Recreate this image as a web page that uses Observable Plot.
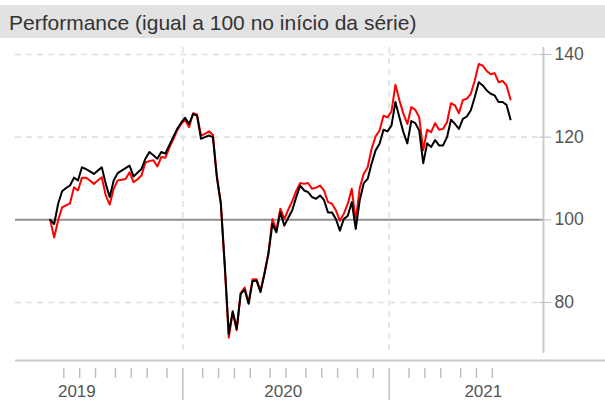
<!DOCTYPE html>
<html><head><meta charset="utf-8">
<script src="https://cdn.jsdelivr.net/npm/d3@7"></script>
<script src="https://cdn.jsdelivr.net/npm/@observablehq/plot@0.6"></script>
<style>
body{margin:0;background:#fff;font-family:"Liberation Sans",Arial,sans-serif;}
#title{margin-top:5px;height:33px;line-height:35px;background:#e2e2e2;color:#333;font-size:21px;padding-left:9px;white-space:nowrap;overflow:hidden}
#chart svg{display:block;overflow:visible}
</style></head><body>
<div id="title">Performance (igual a 100 no início da série)</div>
<div id="chart"></div>
<script>
// weekly series (Fridays), first value on 2019-05-10
const firstWeek = "2019-05-10";
const seriesBlack = [100,99.0,103.9,106.9,107.7,108.3,110.2,109.5,112.7,112.3,111.7,111.1,111.9,112.7,108.7,105.5,109.5,111.3,111.9,112.5,113.1,110.5,111.4,112.3,114.8,116.4,115.6,114.8,116.4,116.0,118.0,120.0,122.0,123.5,124.7,123.2,125.6,125.2,119.6,120.0,120.4,120.0,110.3,103.9,89.0,72.4,77.9,73.6,82.1,83.1,79.7,85.2,85.3,82.5,86.9,91.8,99.0,97.0,101.8,98.6,100.5,102.3,105.5,108.3,107.1,106.7,105.5,105.1,105.9,104.8,101.8,101.8,100.2,97.4,100.2,101.0,104.3,97.8,104.7,108.8,109.9,113.6,116.8,118.4,121.8,121.4,122.8,128.5,124.8,121.2,118.5,123.9,123.4,121.6,113.7,118.5,117.6,119.3,118.0,118.0,120.0,124.2,123.2,122.0,124.4,125.0,126.5,129.7,133.3,132.5,131.3,130.5,130.1,128.5,128.5,127.8,124.3];
const seriesRed = [100,95.7,99.9,103.0,103.5,104.0,107.9,107.1,110.2,110.2,109.5,108.7,109.5,110.3,105.9,103.7,107.5,109.5,109.7,109.9,111.5,109.1,109.8,110.7,113.9,114.2,114.4,112.9,115.2,115.0,117.4,119.5,121.6,123.2,124.2,122.4,125.8,125.5,120.4,120.8,121.4,120.6,110.6,104.0,88.5,71.5,77.6,73.3,82.3,83.6,80.0,85.6,85.6,82.8,87.2,92.0,100.2,97.5,102.7,100.2,102.5,104.5,107.0,108.9,108.7,108.9,107.5,107.8,108.3,107.1,104.3,103.9,102.3,99.8,101.5,103.9,107.5,99.8,107.7,111.1,112.7,117.2,120.2,121.6,125.2,124.8,126.2,132.7,128.9,125.7,123.2,127.3,126.6,124.8,116.8,121.8,121.2,123.4,121.8,122.0,123.6,128.2,127.7,125.8,129.0,129.3,130.5,133.7,137.7,137.3,136.0,135.2,135.5,133.3,133.6,132.5,129.1];
const yTicks = [80, 100, 120, 140];
const gridY = [80, 120, 140];
const refY = 100;
const yearLabels = [
  {date: "2019-06-26", text: "2019"},
  {date: "2020-06-24", text: "2020"},
  {date: "2021-06-12", text: "2021"}
];

const DAY = 864e5;
const t0 = Date.parse(firstWeek + "T00:00:00Z");
const rows = seriesBlack.map((v, i) => ({date: new Date(t0 + i * 7 * DAY), black: v, red: seriesRed[i]}));

// ticks: week of the first Friday of each month (drawn at that week's Monday)
const allTicks = d3.utcMonths(new Date(Date.UTC(2019,5,1)), new Date(Date.UTC(2021,7,1)))
  .map(m => d3.utcDay.offset(d3.utcFriday.ceil(m), -4));
const yearTicks = allTicks.filter(d => d.getUTCMonth() === 0 || (d.getUTCMonth() === 11 && d.getUTCDate() > 25));
const monthTicks = allTicks.filter(d => !yearTicks.includes(d));

const xStart = new Date(Date.UTC(2019,2,9,19));
const xEnd = new Date(Date.UTC(2021,8,26,5));
const xFar = new Date(Date.UTC(2022,0,14));
const yMin = 67.66, yMax = 141.69;

const chart = Plot.plot({
  width: 605, height: 362,
  marginLeft: 15, marginRight: 62, marginTop: 9, marginBottom: 47,
  style: {fontFamily: "'Liberation Sans', Arial, sans-serif", color: "#555", background: "transparent", overflow: "visible"},
  x: {type: "utc", domain: [xStart, xEnd], axis: null},
  y: {domain: [yMin, yMax], axis: null},
  marks: [
    Plot.ruleY(gridY, {stroke: "#e0e0e0", strokeWidth: 1.6, strokeDasharray: "6,5"}),
    Plot.ruleX(yearTicks, {stroke: "#e0e0e0", strokeWidth: 1.6, strokeDasharray: "6,5"}),
    Plot.ruleY([refY], {stroke: "#8f8f8f", strokeWidth: 2}),
    Plot.line(rows, {x: "date", y: "red", stroke: "#ff0000", strokeWidth: 2}),
    Plot.line(rows, {x: "date", y: "black", stroke: "#000000", strokeWidth: 2}),
    Plot.ruleX([xEnd], {stroke: "#c8c8c8", strokeWidth: 1.8}),
    Plot.ruleY([65.97], {x1: xStart, x2: xFar, stroke: "#c8c8c8", strokeWidth: 1.8}),
    Plot.ruleX(monthTicks, {y1: 64.03, y2: 61.61, stroke: "#bdbdbd", strokeWidth: 1.4}),
    Plot.ruleX(yearTicks, {y1: 64.03, y2: 56.2, stroke: "#bdbdbd", strokeWidth: 1.4}),
    Plot.axisY({anchor: "right", ticks: yTicks, tickSize: 12, dx: -5, tickPadding: 4, stroke: "#bdbdbd", color: "#555", fontSize: 17.5, tickFormat: d => String(d)}),
    Plot.text(yearLabels, {x: d => new Date(d.date + "T00:00:00Z"), y: 58.57, text: "text", fill: "#555", fontSize: 17})
  ]
});
document.getElementById("chart").appendChild(chart);
</script>
</body></html>
